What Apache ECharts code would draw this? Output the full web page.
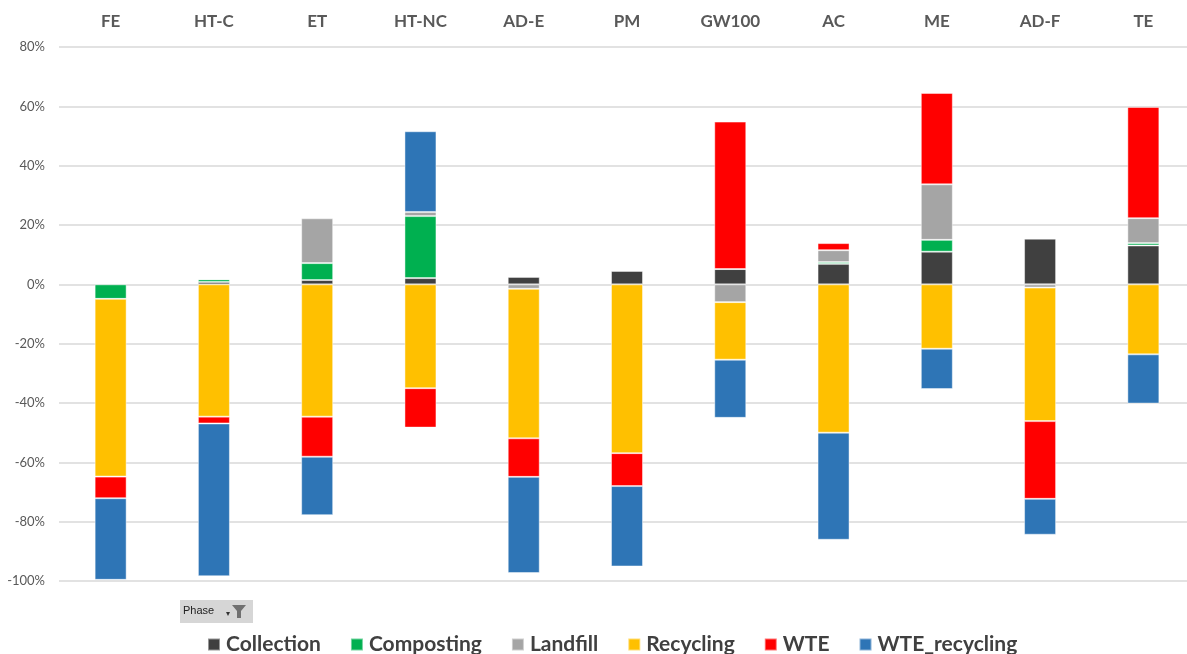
<!DOCTYPE html>
<html><head><meta charset="utf-8">
<script src="https://cdn.jsdelivr.net/npm/echarts@6/dist/echarts.min.js"></script>
<style>html,body{margin:0;padding:0;background:#fff}#c{width:1187px;height:654px}</style>
</head><body><div id="c"></div>
<script>
const categories = ['FE','HT-C','ET','HT-NC','AD-E','PM','GW100','AC','ME','AD-F','TE'];
const collection   = [0.3, 0.8, 1.45, 2.1, 2.5, 4.5, 5.15, 6.9, 11.0, 15.4, 13.1];
const composting   = [-4.9, 0.9, 5.7, 20.9, 0.2, 0.3, 0, 0.6, 4.0, 0.2, 0.8];
const landfill     = [0, 0, 15.1, 1.4, -1.5, 0, -6.0, 4.0, 18.7, -1.1, 8.4];
const recycling    = [-59.9, -44.6, -44.6, -35.0, -50.4, -56.9, -19.4, -50.0, -21.7, -45.0, -23.6];
const wte          = [-7.3, -2.3, -13.5, -13.3, -13.0, -11.1, 49.7, 2.4, 30.8, -26.2, 37.5];
const wteRecycling = [-27.5, -51.5, -19.7, 27.2, -32.4, -27.1, -19.6, -36.1, -13.6, -12.1, -16.6];
const yTicks = {min: -100, max: 80, interval: 20};

const seriesDefs = [
  ['Collection', collection, '#404040'],
  ['Composting', composting, '#00B050'],
  ['Landfill', landfill, '#A5A5A5'],
  ['Recycling', recycling, '#FFC000'],
  ['WTE', wte, '#FF0000'],
  ['WTE_recycling', wteRecycling, '#2E75B6']
];

const chart = echarts.init(document.getElementById('c'));
chart.setOption({
  animation: false,
  grid: {left: 59, top: 47, width: 1136, bottom: 73, containLabel: false, outerBoundsMode: 'none'},
  xAxis: {
    type: 'category', data: categories, position: 'top',
    axisLine: {show: false}, axisTick: {show: false},
    axisLabel: {color: '#595959', fontSize: 17, fontWeight: 'bold', fontFamily: 'Lato, "Open Sans", sans-serif', margin: 17}
  },
  yAxis: {
    type: 'value', min: yTicks.min, max: yTicks.max, interval: yTicks.interval,
    axisLine: {show: false}, axisTick: {show: false},
    axisLabel: {formatter: '{value}%', color: '#595959', fontSize: 13, fontFamily: 'Lato, "Open Sans", sans-serif', margin: 14},
    splitLine: {lineStyle: {color: '#D9D9D9', width: 1.5}}
  },
  legend: {
    left: 202, top: 629, itemWidth: 12, itemHeight: 12, itemGap: 29,
    icon: 'rect',
    textStyle: {color: '#404040', fontSize: 21, fontWeight: 'bold', fontFamily: 'Lato, "Open Sans", sans-serif', padding: [0,0,0,1]},
    data: seriesDefs.map(s => s[0])
  },
  graphic: [
    {type: 'rect', left: 180, top: 600, shape: {width: 73, height: 23}, style: {fill: '#D6D6D6'}},
    {type: 'text', left: 183, top: 605, style: {text: 'Phase', fill: '#222', font: '11px "Liberation Sans Narrow", "Liberation Sans", sans-serif'}},
    {type: 'text', left: 226, top: 610, style: {text: '▾', fill: '#333', font: '8px sans-serif'}},
    {type: 'polygon', shape: {points: [[232,605],[246,605],[241,611],[241,618],[237,618],[237,611]]}, style: {fill: '#707070'}}
  ],
  series: seriesDefs.map(([name, data, color]) => ({
    name, type: 'bar', stack: 'total', data, barWidth: 32,
    itemStyle: {color, borderColor: 'rgba(255,255,255,0.45)', borderWidth: 1},
    emphasis: {disabled: true}
  }))
});
</script></body></html>
